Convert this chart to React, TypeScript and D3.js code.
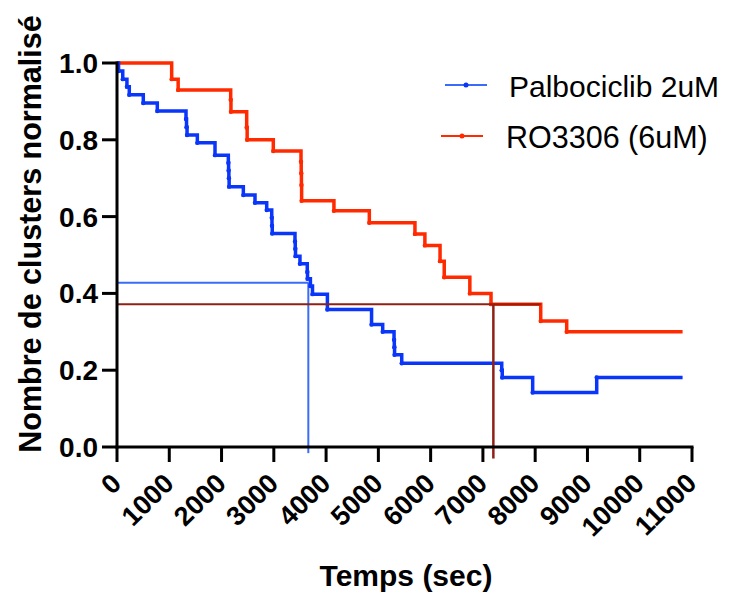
import React from "react";
import * as d3 from "d3";

// Step data: time (sec) at which survival changes, and value after the step
const palboTimes = [0, 30, 110, 190, 235, 503, 771, 1320, 1330, 1340, 1537, 1875, 2130, 2135, 2140, 2145, 2417, 2640, 2864, 2960, 2965, 2970, 3405, 3410, 3415, 3500, 3640, 3645, 3700, 3740, 4025, 4870, 5083, 5300, 5305, 5310, 5447, 7360, 7370, 7952, 9177];
const palboValues = [1.0, 0.979, 0.958, 0.938, 0.917, 0.896, 0.875, 0.854, 0.833, 0.8125, 0.792, 0.76, 0.74, 0.72, 0.70, 0.678, 0.656, 0.636, 0.617, 0.597, 0.576, 0.556, 0.535, 0.516, 0.497, 0.477, 0.456, 0.438, 0.419, 0.398, 0.358, 0.319, 0.30, 0.279, 0.26, 0.24, 0.218, 0.20, 0.181, 0.142, 0.181];
const palboEnd = 10820;

const roTimes = [0, 1046, 1170, 2175, 2180, 2481, 2490, 2990, 3520, 3524, 3528, 3532, 4150, 4827, 5700, 5890, 6180, 6260, 6750, 7155, 8106, 8603];
const roValues = [1.0, 0.958, 0.93, 0.904, 0.873, 0.832, 0.80, 0.771, 0.743, 0.713, 0.682, 0.641, 0.615, 0.584, 0.555, 0.525, 0.484, 0.442, 0.40, 0.372, 0.328, 0.30];
const roEnd = 10820;

// Median lines
const palboMedianTime = 3660;
const palboMedianValue = 0.428;
const roMedianTime = 7200;
const roMedianValue = 0.372;
const roMedianLineEnd = 8106;

const xTicks = [0, 1000, 2000, 3000, 4000, 5000, 6000, 7000, 8000, 9000, 10000, 11000];
const yTicks = [0, 0.2, 0.4, 0.6, 0.8, 1.0];

const seriesNames = ["Palbociclib 2uM", "RO3306 (6uM)"];

const BLUE = "#0A36FA";
const RED = "#FF2A00";
const BLUE_LIGHT = "#3A6CF7";
const DARK_RED = "#8E2016";

const W = 729;
const H = 594;

export default function App() {
  const x = d3.scaleLinear().domain([0, 11000]).range([117, 692]);
  const y = d3.scaleLinear().domain([0, 1]).range([447, 63]);

  const stepLine = d3
    .line<[number, number]>()
    .x((d) => x(d[0]))
    .y((d) => y(d[1]))
    .curve(d3.curveStepAfter);

  const palboPts: [number, number][] = palboTimes.map((t, i) => [t, palboValues[i]]);
  palboPts.push([palboEnd, palboValues[palboValues.length - 1]]);
  const roPts: [number, number][] = roTimes.map((t, i) => [t, roValues[i]]);
  roPts.push([roEnd, roValues[roValues.length - 1]]);

  const font = "'Liberation Sans', Arial, Helvetica, sans-serif";

  return (
    <svg
      width={W}
      height={H}
      style={{ position: "absolute", left: 0, top: 0, background: "#fff" }}
      fontFamily={font}
    >
      {/* median lines */}
      <line x1={x(0)} x2={x(palboMedianTime)} y1={y(palboMedianValue)} y2={y(palboMedianValue)} stroke={BLUE_LIGHT} strokeWidth={2} />
      <line x1={x(palboMedianTime)} x2={x(palboMedianTime)} y1={y(palboMedianValue)} y2={y(-0.016)} stroke={BLUE_LIGHT} strokeWidth={2} />

      {/* curves */}
      <path d={stepLine(roPts) || ""} fill="none" stroke={RED} strokeWidth={3.5} />
      <path d={stepLine(palboPts) || ""} fill="none" stroke={BLUE} strokeWidth={3.5} />
      {roPts.slice(1, -1).map((d, i) => (
        <circle key={"rd" + i} cx={x(d[0])} cy={y(d[1])} r={2.2} fill={RED} />
      ))}
      {palboPts.slice(1, -1).map((d, i) => (
        <circle key={"bd" + i} cx={x(d[0])} cy={y(d[1])} r={2.2} fill={BLUE} />
      ))}

      <line x1={x(0)} x2={x(roMedianLineEnd)} y1={y(roMedianValue)} y2={y(roMedianValue)} stroke={DARK_RED} strokeWidth={2} />
      <line x1={x(roMedianTime)} x2={x(roMedianTime)} y1={y(roMedianValue)} y2={y(-0.03)} stroke={DARK_RED} strokeWidth={2.5} />

      {/* y axis */}
      <line x1={x(0)} x2={x(0)} y1={y(1) - 1.5} y2={y(0) + 1.5} stroke="#000" strokeWidth={3} />
      {yTicks.map((t) => (
        <g key={"yt" + t}>
          <line x1={x(0) - 15} x2={x(0)} y1={y(t)} y2={y(t)} stroke="#000" strokeWidth={3} />
          <text x={98} y={y(t)} dy="0.36em" textAnchor="end" fontSize={28} fontWeight="bold">
            {t.toFixed(1)}
          </text>
        </g>
      ))}

      {/* x axis */}
      <line x1={x(0) - 1.5} x2={x(11000) + 1.5} y1={y(0)} y2={y(0)} stroke="#000" strokeWidth={3} />
      {xTicks.map((t) => (
        <g key={"xt" + t}>
          <line x1={x(t)} x2={x(t)} y1={y(0)} y2={y(0) + 15} stroke="#000" strokeWidth={3} />
          <text
            transform={`translate(${x(t) + 6},${y(0) + 38}) rotate(-45)`}
            textAnchor="end"
            fontSize={27}
            fontWeight="bold"
          >
            {t}
          </text>
        </g>
      ))}

      {/* axis titles */}
      <text x={406} y={586} textAnchor="middle" fontSize={30} fontWeight="bold">
        Temps (sec)
      </text>
      <text transform="translate(41,234) rotate(-90)" textAnchor="middle" fontSize={30.5} fontWeight="bold">
        Nombre de clusters normalisé
      </text>

      {/* legend */}
      <line x1={445} x2={487} y1={85} y2={85} stroke={BLUE_LIGHT} strokeWidth={2} />
      <circle cx={466} cy={85} r={2.5} fill={BLUE} />
      <text x={509} y={97} fontSize={30}>{seriesNames[0]}</text>
      <line x1={441} x2={483} y1={136} y2={136} stroke={RED} strokeWidth={2} />
      <circle cx={462} cy={136} r={2.5} fill={RED} />
      <text x={506} y={148} fontSize={30.5}>{seriesNames[1]}</text>
    </svg>
  );
}
